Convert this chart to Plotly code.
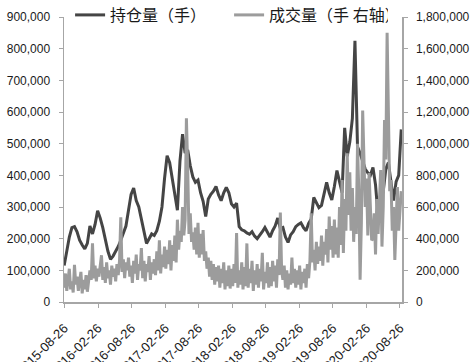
import pandas as pd
import plotly.graph_objects as go

# ---- data (values in thousands of lots) ----
pos_start = "2015-08-26"
pos_step = "14D"
position_k = [
    115, 160, 205, 235, 238, 222, 195, 180, 168, 185,
    240, 215, 245, 288, 265, 235, 198, 160, 135, 145,
    160, 175, 195, 220, 240, 290, 340, 360, 320, 300,
    260, 228, 185, 200, 215, 210, 225, 255, 300, 390,
    462, 440, 390, 335, 290, 445, 530, 470, 480, 430,
    395, 378, 385, 345, 318, 270, 325, 340, 350, 365,
    338, 320, 345, 362, 345, 310, 300, 312, 238, 228,
    225, 218, 214, 222, 208, 200, 210, 222, 235, 218,
    205, 225, 240, 265, 232, 235, 205, 188, 212, 222,
    238, 245, 250, 235, 225, 248, 262, 330, 312, 298,
    305, 340, 378, 345, 322, 365, 415, 380, 345, 550,
    460, 505, 580, 825, 490, 470, 445, 420, 408, 400,
    425, 370, 270, 320, 350, 420, 440, 370, 320, 380,
    400, 545,
]

vol_start = "2015-08-26"
vol_step = "7D"
volume_k = [
    90, 180, 70, 150, 210, 80, 130, 60, 235, 110,
    160, 70, 120, 190, 55, 140, 80, 170, 65, 130,
    200, 140, 370, 150, 230, 130, 210, 160, 240, 295,
    140, 220, 120, 250, 150, 200, 110, 230, 160, 210,
    130, 240, 170, 260, 535, 190, 270, 150, 250, 200,
    280, 160, 230, 120, 260, 180, 300, 140, 240, 200,
    340, 150, 260, 130, 240, 190, 290, 140, 250, 180,
    270, 170, 320, 200, 390, 180, 300, 220, 350, 210,
    330, 240, 390, 200, 360, 260, 420, 250, 520, 330,
    450, 380, 600, 420, 520, 1160, 850, 430, 560, 380,
    440, 330, 470, 300, 500, 280, 430, 300, 455, 260,
    320, 210, 280, 160, 260, 140, 240, 110, 220, 130,
    230, 90, 210, 120, 250, 80, 200, 100, 230, 85,
    210, 100, 240, 120, 435, 90, 200, 110, 250, 80,
    220, 100, 370, 90, 210, 120, 260, 70, 200, 110,
    240, 90, 210, 130, 310, 80, 190, 120, 250, 90,
    220, 100, 260, 130, 230, 90, 270, 170, 565, 200,
    140, 230, 90, 200, 80, 180, 110, 280, 120, 210,
    90, 200, 110, 230, 80, 190, 120, 210, 90, 240,
    150, 260, 560, 250, 330, 200, 380, 240, 350, 260,
    420, 230, 380, 300, 460, 250, 540, 330, 480, 280,
    520, 300, 470, 280, 600, 360, 770, 310, 650, 450,
    940, 550, 820, 450, 720, 380, 600, 430, 1000, 700,
    140, 500, 1210, 850, 600, 780, 420, 815, 600, 390,
    400, 560, 300, 650, 430, 700, 834, 350, 600, 1150,
    900, 1700, 1230, 700, 770, 450, 600, 265, 500, 726,
    450, 600, 700,
]

tick_dates = [
    "2015-08-26", "2016-02-26", "2016-08-26", "2017-02-26", "2017-08-26",
    "2018-02-26", "2018-08-26", "2019-02-26", "2019-08-26", "2020-02-26",
    "2020-08-26",
]
left_ticks = [0, 100000, 200000, 300000, 400000, 500000, 600000, 700000, 800000, 900000]
left_text = ["0", "100,000", "200,000", "300,000", "400,000", "500,000",
             "600,000", "700,000", "800,000", "900,000"]
right_ticks = [0, 200000, 400000, 600000, 800000, 1000000, 1200000, 1400000, 1600000, 1800000]
right_text = ["0", "200,000", "400,000", "600,000", "800,000", "1,000,000",
              "1,200,000", "1,400,000", "1,600,000", "1,800,000"]

name_pos = "持仓量（手）"
name_vol = "成交量（手 右轴）"

UNIT = 1000
pos_dates = pd.date_range(pos_start, periods=len(position_k), freq=pos_step)
vol_dates = pd.date_range(vol_start, periods=len(volume_k), freq=vol_step)

fig = go.Figure()
fig.add_trace(go.Scatter(
    x=pos_dates, y=[v * UNIT for v in position_k], name=name_pos,
    mode="lines", line=dict(color="#454545", width=3), yaxis="y",
))
fig.add_trace(go.Scatter(
    x=vol_dates, y=[v * UNIT for v in volume_k], name=name_vol,
    mode="lines", line=dict(color="#9c9c9c", width=3), yaxis="y2",
))

num_font = "Liberation Sans, Arial"
tick_font = dict(family=num_font, size=12, color="#1a1a1a")
axis_col = "#a6a6a6"

fig.update_layout(
    width=476, height=362,
    margin=dict(l=64, r=74, t=17, b=60, autoexpand=False),
    paper_bgcolor="white", plot_bgcolor="white",
    showlegend=True,
    legend=dict(
        orientation="h", x=0.018, xanchor="left", y=1.007, yanchor="middle",
        font=dict(family="Noto Sans CJK SC", size=16, color="#1a1a1a"),
        bgcolor="rgba(0,0,0,0)", entrywidth=114, entrywidthmode="pixels",
        itemwidth=30, tracegroupgap=0,
    ),
    xaxis=dict(
        type="date", range=["2015-08-25", "2020-09-06"],
        tickmode="array", tickvals=tick_dates, ticktext=tick_dates,
        tickangle=-45, tickfont=dict(family=num_font, size=13, color="#1a1a1a"),
        showgrid=False, zeroline=False, showline=True, linecolor=axis_col, linewidth=1.5,
        ticks="outside", ticklen=4, tickcolor=axis_col, automargin=False,
        ticklabelstandoff=8,
    ),
    yaxis=dict(
        range=[0, 900000], tickmode="array", tickvals=left_ticks, ticktext=left_text,
        tickfont=tick_font, showgrid=False, zeroline=False,
        showline=True, linecolor=axis_col, linewidth=1.5,
        ticks="outside", ticklen=4, tickcolor=axis_col, ticklabelstandoff=6,
        automargin=False,
    ),
    yaxis2=dict(
        range=[0, 1800000], overlaying="y", side="right",
        tickmode="array", tickvals=right_ticks, ticktext=right_text,
        tickfont=tick_font, showgrid=False, zeroline=False,
        showline=True, linecolor=axis_col, linewidth=1.5,
        ticks="outside", ticklen=4, tickcolor=axis_col, ticklabelstandoff=6,
        automargin=False,
    ),
    hovermode=False,
)

fig.write_html(
    "out.html",
    config={"displayModeBar": False, "staticPlot": True},
    post_script="document.body.style.margin='0';document.body.style.padding='0';",
)
